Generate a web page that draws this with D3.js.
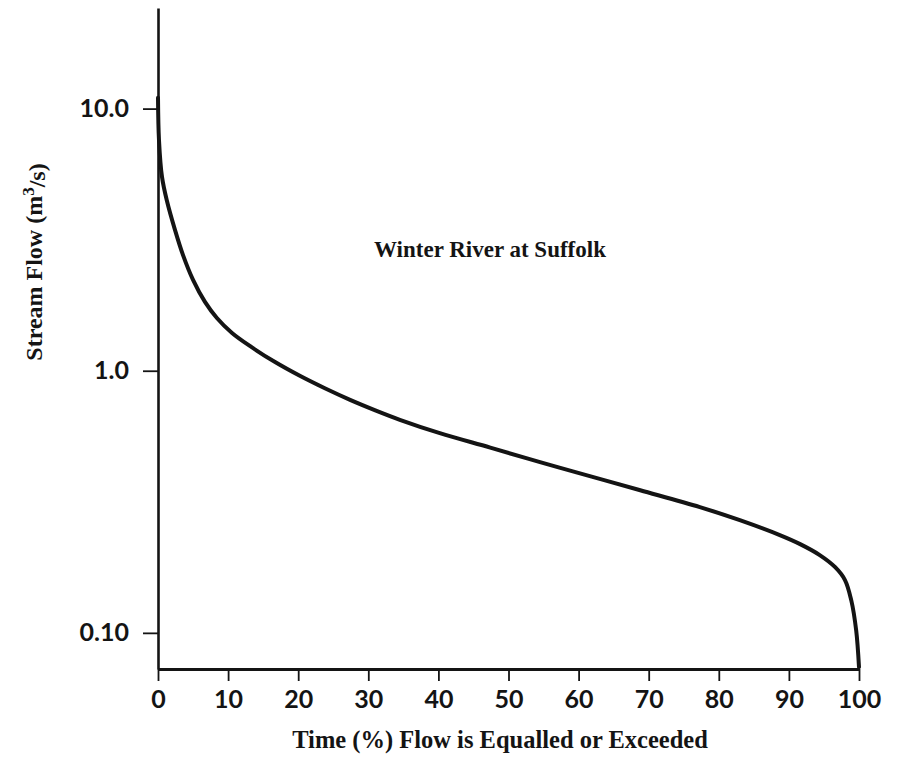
<!DOCTYPE html>
<html>
<head>
<meta charset="utf-8">
<script src="https://cdn.jsdelivr.net/npm/d3@7"></script>
<style>
  html, body { margin: 0; padding: 0; background: #fff; }
  svg { display: block; }
</style>
</head>
<body>
<svg id="chart" width="898" height="765"></svg>
<script>
// Flow-duration curve, Winter River at Suffolk
const timePercent = [0, 0.14, 0.57, 1.28, 2.43, 3.57, 5.0, 6.7, 8.4, 10.56, 13.1, 16.7, 20.3, 23.8, 27.4, 31.0, 34.5, 40.2, 47.4, 54.5, 61.6, 68.8, 77.3, 83.0, 88.7, 91.6, 94.4, 96.6, 98.0, 98.9, 99.6, 100];
const flowM3s    = [11.0, 7.59, 5.49, 4.44, 3.44, 2.76, 2.22, 1.83, 1.589, 1.393, 1.243, 1.079, 0.954, 0.857, 0.774, 0.706, 0.650, 0.578, 0.509, 0.448, 0.396, 0.350, 0.302, 0.269, 0.236, 0.218, 0.198, 0.178, 0.159, 0.133, 0.102, 0.074];

const xTickValues = [0, 10, 20, 30, 40, 50, 60, 70, 80, 90, 100];
const yTickValues = [0.1, 1, 10];
const yTickLabels = ["0.10", "1.0", "10.0"];
const yExtent = [0.0728, 24.2];

const chartTitle = "Winter River at Suffolk";
const xTitle = "Time (%) Flow is Equalled or Exceeded";

const svg = d3.select("#chart");
const ink = "#141414";
const tickFont = "Lato, 'Open Sans', sans-serif";
const serif = "'Liberation Serif', 'Times New Roman', serif";

const x = d3.scaleLinear().domain([0, 100]).range([158, 859]);
const y = d3.scaleLog().domain(yExtent).range([669, 8]);

// x axis
const xAxis = svg.append("g")
  .attr("transform", `translate(0,${y(yExtent[0])})`)
  .call(d3.axisBottom(x).tickValues(xTickValues).tickSize(12).tickSizeOuter(0).tickPadding(9).tickFormat(d3.format("d")));
xAxis.select(".domain").attr("stroke", ink).attr("stroke-width", 2.8);
xAxis.selectAll(".tick line").attr("stroke", ink).attr("stroke-width", 1.8);
xAxis.selectAll(".tick text")
  .attr("fill", ink)
  .style("font-family", tickFont)
  .style("font-weight", 700)
  .style("font-size", "25px");

// y axis
const yAxis = svg.append("g")
  .attr("transform", `translate(${x(0)},0)`)
  .call(d3.axisLeft(y).tickValues(yTickValues).tickSize(15).tickSizeOuter(0).tickPadding(14)
    .tickFormat((d, i) => yTickLabels[i]));
yAxis.select(".domain").attr("stroke", ink).attr("stroke-width", 2.6);
yAxis.selectAll(".tick line").attr("stroke", ink).attr("stroke-width", 1.8);
yAxis.selectAll(".tick text")
  .attr("fill", ink)
  .style("font-family", tickFont)
  .style("font-weight", 700)
  .style("font-size", "25px");

// flow-duration curve
const data = timePercent.map((t, i) => ({ t, q: flowM3s[i] }));
const line = d3.line()
  .x(d => x(d.t))
  .y(d => y(d.q))
  .curve(d3.curveCatmullRom.alpha(0.5));

svg.append("path")
  .datum(data)
  .attr("d", line)
  .attr("fill", "none")
  .attr("stroke", ink)
  .attr("stroke-width", 4)
  .attr("stroke-linejoin", "round")
  .attr("stroke-linecap", "round");

// station name
svg.append("text")
  .attr("x", 490)
  .attr("y", 257)
  .attr("text-anchor", "middle")
  .attr("fill", ink)
  .style("font-family", serif)
  .style("font-size", "23px")
  .style("font-weight", 700)
  .text(chartTitle);

// x axis title
svg.append("text")
  .attr("x", 500)
  .attr("y", 748)
  .attr("text-anchor", "middle")
  .attr("fill", ink)
  .style("font-family", serif)
  .style("font-size", "24.5px")
  .style("font-weight", 700)
  .text(xTitle);

// y axis title with superscript
const yTitle = svg.append("text")
  .attr("transform", "translate(42,262) rotate(-90)")
  .attr("text-anchor", "middle")
  .attr("fill", ink)
  .style("font-family", serif)
  .style("font-size", "24px")
  .style("font-weight", 700);
yTitle.append("tspan").text("Stream Flow (m");
yTitle.append("tspan").attr("dy", "-0.45em").style("font-size", "17px").text("3");
yTitle.append("tspan").attr("dy", "0.45em").text("/s)");
</script>
</body>
</html>
